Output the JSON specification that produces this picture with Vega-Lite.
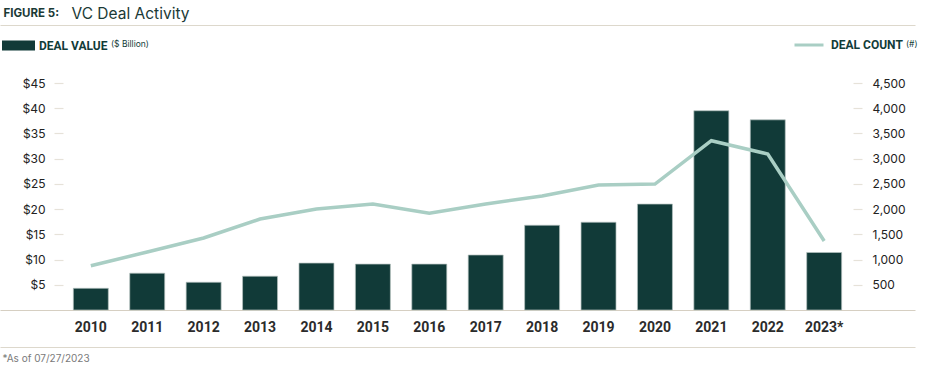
{
  "$schema": "https://vega.github.io/schema/vega-lite/v6.json",
  "width": 915,
  "height": 227,
  "autosize": {"type": "none"},
  "padding": {"left": 0, "top": 83, "right": 30, "bottom": 60},
  "background": "white",
  "config": {
    "view": {"stroke": null},
    "font": "Inter"
  },
  "data": {
    "values": [
      {"year": "2010", "value": 4.3, "count": 878},
      {"year": "2011", "value": 7.3, "count": 1150},
      {"year": "2012", "value": 5.5, "count": 1427},
      {"year": "2013", "value": 6.7, "count": 1804},
      {"year": "2014", "value": 9.3, "count": 2002},
      {"year": "2015", "value": 9.1, "count": 2101},
      {"year": "2016", "value": 9.1, "count": 1917},
      {"year": "2017", "value": 10.9, "count": 2101},
      {"year": "2018", "value": 16.8, "count": 2260},
      {"year": "2019", "value": 17.4, "count": 2478},
      {"year": "2020", "value": 21.0, "count": 2497},
      {"year": "2021", "value": 39.5, "count": 3356},
      {"year": "2022", "value": 37.7, "count": 3092},
      {"year": "2023*", "value": 11.4, "count": 1368}
    ]
  },
  "layer": [
    {
      "mark": {"type": "bar", "color": "#113a38", "stroke": "#b4c2be", "strokeWidth": 0.7},
      "encoding": {
        "x": {
          "field": "year", "type": "ordinal", "sort": null,
          "scale": {
            "domain": [" ", "2010", "2011", "2012", "2013", "2014", "2015", "2016", "2017", "2018", "2019", "2020", "2021", "2022", "2023*", "  "],
            "paddingInner": 0.38, "paddingOuter": 0.3
          },
          "axis": {
            "orient": "bottom", "title": null, "ticks": false,
            "domainColor": "#d6cfc2", "domainWidth": 1.2,
            "labelAngle": 0, "labelPadding": 10,
            "labelFont": "Roboto",
            "labelFontWeight": "bold", "labelFontSize": 14, "labelColor": "#2b2b2b"
          }
        },
        "y": {
          "field": "value", "type": "quantitative",
          "scale": {"domain": [0, 45], "nice": false, "zero": true},
          "axis": {
            "orient": "left", "offset": -63, "domain": false, "grid": false,
            "values": [5, 10, 15, 20, 25, 30, 35, 40, 45],
            "labelExpr": "'$' + datum.value",
            "tickSize": 9, "tickColor": "#e6e2d9", "tickWidth": 1.2,
            "labelPadding": 9, "labelFont": "Inter", "labelFontSize": 12, "labelColor": "#222222",
            "title": "VC Deal Activity", "titleAngle": 0, "titleX": 8, "titleY": -70,
            "titleAlign": "left", "titleBaseline": "middle",
            "titleFont": "Inter", "titleFontWeight": "normal", "titleFontSize": 15.5, "titleColor": "#1b3a36"
          }
        },
        "color": {
          "datum": "DEAL VALUE",
          "scale": {"range": ["#113a38"]},
          "legend": {
            "orient": "none", "legendX": 2, "legendY": -54,
            "symbolType": "M-1,-0.3H1V0.3H-1Z", "symbolSize": 1089, "symbolStrokeWidth": 0,
            "labelFont": "Roboto",
            "labelFontWeight": "bold", "labelFontSize": 12, "labelColor": "#123c39", "labelOffset": 4,
            "title": "($ Billion)", "titleOrient": "right", "titlePadding": 3, "titleAnchor": "middle",
            "titleFont": "Inter", "titleFontWeight": "normal", "titleFontSize": 8.5, "titleColor": "#123c39",
            "titleBaseline": "top"
          }
        }
      }
    },
    {
      "mark": {"type": "line", "color": "#a9cec4", "strokeWidth": 3.5},
      "encoding": {
        "x": {
          "field": "year", "type": "ordinal", "sort": null,
          "axis": {
            "orient": "top", "offset": 58, "labels": false, "ticks": false,
            "domainColor": "#ddd8cc", "domainWidth": 1.2,
            "title": "FIGURE 5:", "titleX": 3, "titleY": -12, "titleAlign": "left", "titleBaseline": "middle",
            "titleFont": "Inter", "titleFontWeight": "bold", "titleFontSize": 11.5, "titleColor": "#1b3a36"
          }
        },
        "y": {
          "field": "count", "type": "quantitative",
          "scale": {"domain": [0, 4500], "nice": false, "zero": true},
          "axis": {
            "orient": "right", "offset": -62, "domain": false, "grid": false,
            "values": [500, 1000, 1500, 2000, 2500, 3000, 3500, 4000, 4500],
            "labelExpr": "format(datum.value, ',')",
            "tickSize": 9, "tickColor": "#e6e2d9", "tickWidth": 1.2,
            "labelPadding": 10, "labelFont": "Inter", "labelFontSize": 12, "labelColor": "#222222",
            "title": null
          }
        },
        "color": {
          "datum": "DEAL COUNT",
          "scale": {"range": ["#a9cec4"]},
          "legend": {
            "orient": "none", "legendX": 793, "legendY": -54,
            "symbolType": "stroke", "symbolSize": 841, "symbolStrokeWidth": 3,
            "labelFont": "Roboto",
            "labelFontWeight": "bold", "labelFontSize": 12, "labelColor": "#123c39", "labelOffset": 6,
            "title": "(#)", "titleOrient": "right", "titlePadding": 3, "titleAnchor": "middle",
            "titleFont": "Inter", "titleFontWeight": "normal", "titleFontSize": 8.5, "titleColor": "#123c39",
            "titleBaseline": "top"
          }
        }
      }
    },
    {
      "mark": {"type": "point", "opacity": 0},
      "encoding": {
        "x": {
          "field": "year", "type": "ordinal", "sort": null,
          "axis": {
            "orient": "bottom", "offset": 37, "labels": false, "ticks": false,
            "domainColor": "#ddd8cc", "domainWidth": 1.2,
            "title": "*As of 07/27/2023", "titleX": 2, "titleY": 11, "titleAlign": "left", "titleBaseline": "middle",
            "titleFont": "Inter", "titleFontWeight": "normal", "titleFontSize": 10, "titleColor": "#7a7a7a"
          }
        }
      }
    }
  ],
  "resolve": {
    "scale": {"y": "independent", "color": "independent"},
    "axis": {"x": "independent", "y": "independent"},
    "legend": {"color": "independent"}
  }
}
